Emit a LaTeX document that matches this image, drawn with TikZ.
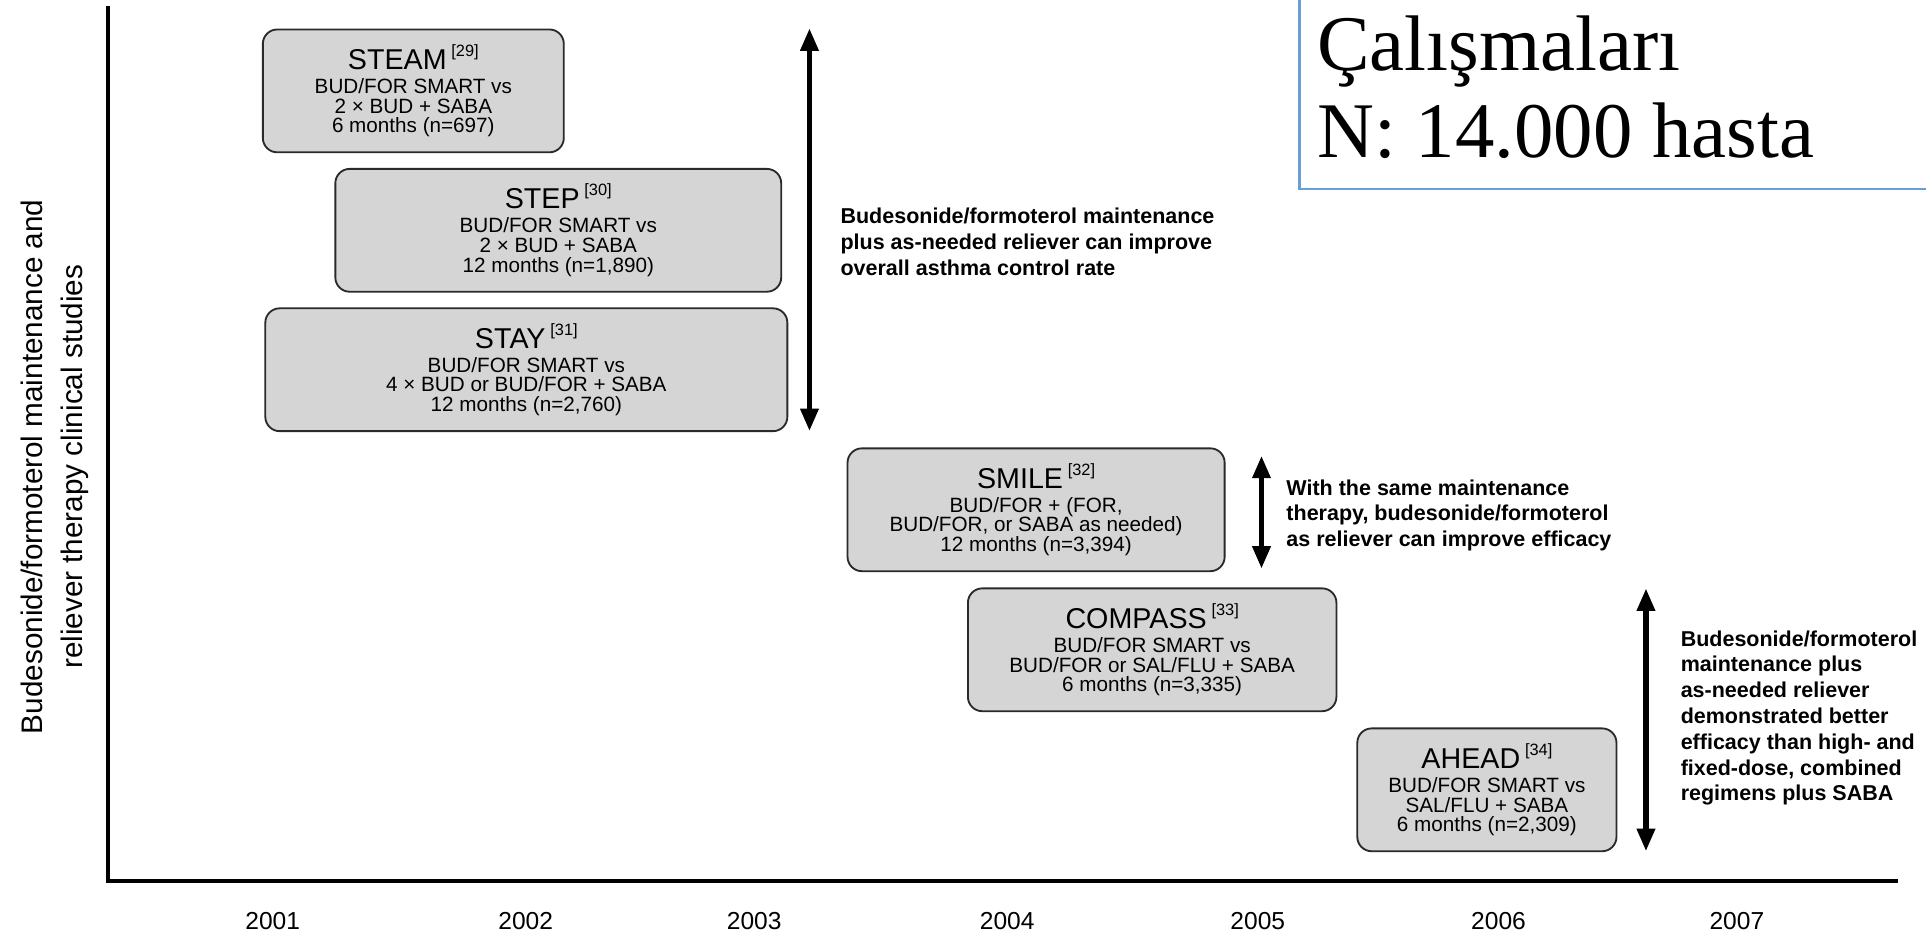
\documentclass[tikz,border=0pt]{standalone}
\usepackage{fontspec}
\setmainfont{Liberation Sans}
\newfontfamily\bigserif{Liberation Serif}
\usetikzlibrary{arrows.meta}
\definecolor{boxgray}{HTML}{D5D5D5}
\definecolor{boxedge}{HTML}{2A2A2A}
\definecolor{noteblue}{HTML}{6A9ED6}
\newcommand\sttitle[2]{{\fontsize{14}{14}\selectfont #1\,\raisebox{0.45em}{\fontsize{8}{8}\selectfont[#2]}}\\[2pt]}
\begin{document}
\begin{tikzpicture}[x=0.6pt,y=-0.6pt,
  study/.style={draw=boxedge, fill=boxgray, line width=0.9pt, rounded corners=7pt,
    align=center, minimum height=60pt, inner sep=2pt, font=\fontsize{10.1}{9.7}\selectfont},
  note/.style={anchor=north west, align=left, inner sep=0pt,
    font=\bfseries\fontsize{10.5}{12.6}\selectfont},
  span/.style={line width=2.6pt, {Triangle[length=11pt,width=8.5pt]}-{Triangle[length=11pt,width=8.5pt]}},
  axisline/.style={line width=2pt},
  year/.style={font=\fontsize{12}{12}\selectfont},
  bignote/.style={anchor=base west, inner sep=0pt, font=\bigserif\fontsize{38.5}{43}\selectfont}]
\useasboundingbox (0,0) rectangle (1568,766);

% axes
\coordinate (T) at (88,5);
\coordinate (O) at (88,717);
\coordinate (R) at (1545,717);
\draw[axisline] (T) -- (O) -- (R);

% y label
\node[rotate=90, align=center, font=\fontsize{14.5}{19.5}\selectfont] (ylab) at (45,380)
  {Budesonide/formoterol maintenance and\\reliever therapy clinical studies};

% years
\node[year] (y1) at (222,750) {2001};
\node[year] (y2) at (428,750) {2002};
\node[year] (y3) at (614,750) {2003};
\node[year] (y4) at (820,750) {2004};
\node[year] (y5) at (1024,750) {2005};
\node[year] (y6) at (1220,750) {2006};
\node[year] (y7) at (1414,750) {2007};

% studies
\node[study, minimum width=147pt] (steam) at (336.5,74)
  {\sttitle{STEAM}{29}BUD/FOR SMART vs\\2 × BUD + SABA\\6 months (n=697)};
\node[study, minimum width=217.8pt] (step) at (454.5,187.5)
  {\sttitle{STEP}{30}BUD/FOR SMART vs\\2 × BUD + SABA\\12 months (n=1,890)};
\node[study, minimum width=255pt] (stay) at (428.5,301)
  {\sttitle{STAY}{31}BUD/FOR SMART vs\\4 × BUD or BUD/FOR + SABA\\12 months (n=2,760)};
\node[study, minimum width=184.2pt] (smile) at (843.5,415)
  {\sttitle{SMILE}{32}BUD/FOR + (FOR,\\BUD/FOR, or SABA as needed)\\12 months (n=3,394)};
\node[study, minimum width=180pt] (compass) at (938,529)
  {\sttitle{COMPASS}{33}BUD/FOR SMART vs\\BUD/FOR or SAL/FLU + SABA\\6 months (n=3,335)};
\node[study, minimum width=126.6pt] (ahead) at (1210.5,643)
  {\sttitle{AHEAD}{34}BUD/FOR SMART vs\\SAL/FLU + SABA\\6 months (n=2,309)};

% span arrows
\coordinate (a1t) at (659,23);  \coordinate (a1b) at (659,351);
\coordinate (a2t) at (1027,371); \coordinate (a2b) at (1027,463);
\coordinate (a3t) at (1340,479); \coordinate (a3b) at (1340,693);
\draw[span] (a1t) -- (a1b);
\draw[span] (a2t) -- (a2b);
\draw[span] (a3t) -- (a3b);

% notes
\node[note] (n1) at (684,169)
  {Budesonide/formoterol maintenance\\plus as-needed reliever can improve\\overall asthma control rate};
\node[note] (n2) at (1047,390)
  {With the same maintenance\\therapy, budesonide/formoterol\\as reliever can improve efficacy};
\node[note] (n3) at (1368,513)
  {Budesonide/formoterol\\maintenance plus\\as-needed reliever\\demonstrated better\\efficacy than high- and\\fixed-dose, combined\\regimens plus SABA};

% top-right box
\draw[noteblue, line width=1.2pt] (1058,-10) rectangle (1590,154);
\node[bignote] (cal) at (1072,57) {Çalışmaları};
\node[bignote] (hasta) at (1072,128) {N: 14.000 hasta};
\end{tikzpicture}
\end{document}
